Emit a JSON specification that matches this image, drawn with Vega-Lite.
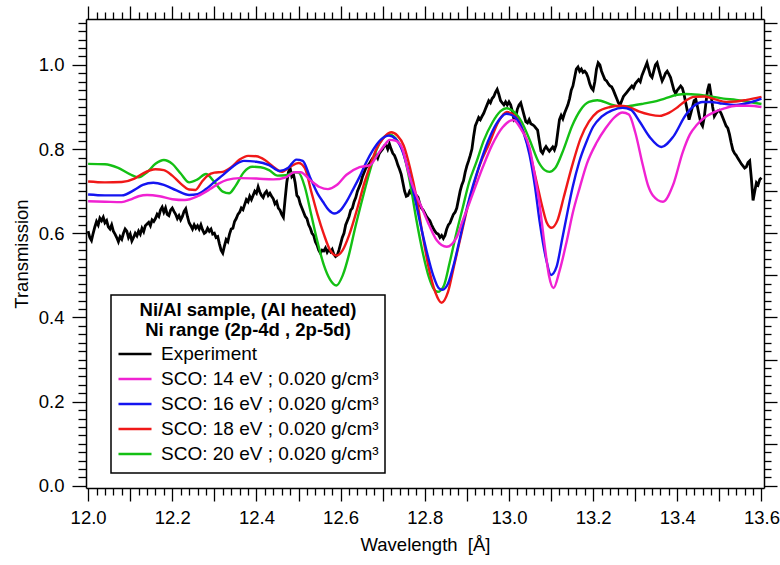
{
"$schema":"https://vega.github.io/schema/vega-lite/v6.json",
"width":678,"height":469,
"autosize":{"type":"none"},
"padding":{"left":86,"top":19,"right":16,"bottom":77},
"background":"white",
"config":{"font":"Liberation Sans","view":{"stroke":null},"legend":{"strokeWidth":1.5}},
"datasets":{
"exp":[
{"w":12.000,"t":0.605},{"w":12.004,"t":0.59},{"w":12.008,"t":0.583},{"w":12.012,"t":0.6},{"w":12.016,"t":0.615},{"w":12.020,"t":0.628},{"w":12.024,"t":0.62},{"w":12.028,"t":0.636},{"w":12.032,"t":0.63},{"w":12.036,"t":0.638},{"w":12.040,"t":0.625},{"w":12.044,"t":0.63},{"w":12.048,"t":0.615},{"w":12.052,"t":0.61},{"w":12.056,"t":0.62},{"w":12.060,"t":0.605},{"w":12.064,"t":0.598},{"w":12.068,"t":0.59},{"w":12.072,"t":0.58},{"w":12.076,"t":0.592},{"w":12.080,"t":0.586},{"w":12.084,"t":0.6},{"w":12.088,"t":0.61},{"w":12.092,"t":0.605},{"w":12.096,"t":0.59},{"w":12.100,"t":0.598},{"w":12.104,"t":0.582},{"w":12.108,"t":0.59},{"w":12.112,"t":0.6},{"w":12.116,"t":0.594},{"w":12.120,"t":0.605},{"w":12.124,"t":0.598},{"w":12.128,"t":0.612},{"w":12.132,"t":0.604},{"w":12.136,"t":0.618},{"w":12.140,"t":0.622},{"w":12.144,"t":0.626},{"w":12.148,"t":0.618},{"w":12.152,"t":0.632},{"w":12.156,"t":0.628},{"w":12.160,"t":0.635},{"w":12.164,"t":0.645},{"w":12.168,"t":0.64},{"w":12.172,"t":0.655},{"w":12.176,"t":0.662},{"w":12.180,"t":0.65},{"w":12.184,"t":0.66},{"w":12.188,"t":0.645},{"w":12.192,"t":0.642},{"w":12.196,"t":0.655},{"w":12.200,"t":0.66},{"w":12.204,"t":0.652},{"w":12.208,"t":0.645},{"w":12.212,"t":0.635},{"w":12.216,"t":0.642},{"w":12.220,"t":0.632},{"w":12.224,"t":0.64},{"w":12.228,"t":0.652},{"w":12.232,"t":0.658},{"w":12.236,"t":0.64},{"w":12.240,"t":0.625},{"w":12.244,"t":0.618},{"w":12.248,"t":0.61},{"w":12.252,"t":0.62},{"w":12.256,"t":0.612},{"w":12.260,"t":0.618},{"w":12.264,"t":0.61},{"w":12.268,"t":0.62},{"w":12.272,"t":0.608},{"w":12.276,"t":0.6},{"w":12.280,"t":0.603},{"w":12.284,"t":0.612},{"w":12.288,"t":0.605},{"w":12.292,"t":0.61},{"w":12.296,"t":0.598},{"w":12.300,"t":0.6},{"w":12.304,"t":0.59},{"w":12.308,"t":0.592},{"w":12.312,"t":0.575},{"w":12.316,"t":0.56},{"w":12.320,"t":0.553},{"w":12.324,"t":0.57},{"w":12.328,"t":0.585},{"w":12.332,"t":0.58},{"w":12.336,"t":0.598},{"w":12.340,"t":0.61},{"w":12.344,"t":0.612},{"w":12.348,"t":0.628},{"w":12.352,"t":0.635},{"w":12.356,"t":0.645},{"w":12.360,"t":0.65},{"w":12.364,"t":0.66},{"w":12.368,"t":0.656},{"w":12.372,"t":0.668},{"w":12.376,"t":0.68},{"w":12.380,"t":0.675},{"w":12.384,"t":0.688},{"w":12.388,"t":0.68},{"w":12.392,"t":0.69},{"w":12.396,"t":0.7},{"w":12.400,"t":0.695},{"w":12.404,"t":0.71},{"w":12.408,"t":0.698},{"w":12.412,"t":0.69},{"w":12.416,"t":0.685},{"w":12.420,"t":0.695},{"w":12.424,"t":0.7},{"w":12.428,"t":0.69},{"w":12.432,"t":0.695},{"w":12.436,"t":0.688},{"w":12.440,"t":0.682},{"w":12.444,"t":0.67},{"w":12.448,"t":0.675},{"w":12.452,"t":0.66},{"w":12.456,"t":0.655},{"w":12.460,"t":0.645},{"w":12.464,"t":0.638},{"w":12.468,"t":0.68},{"w":12.472,"t":0.72},{"w":12.476,"t":0.745},{"w":12.480,"t":0.755},{"w":12.484,"t":0.735},{"w":12.488,"t":0.74},{"w":12.492,"t":0.72},{"w":12.496,"t":0.69},{"w":12.500,"t":0.685},{"w":12.504,"t":0.67},{"w":12.508,"t":0.66},{"w":12.512,"t":0.65},{"w":12.516,"t":0.64},{"w":12.520,"t":0.635},{"w":12.524,"t":0.62},{"w":12.528,"t":0.612},{"w":12.532,"t":0.6},{"w":12.536,"t":0.595},{"w":12.540,"t":0.58},{"w":12.544,"t":0.572},{"w":12.548,"t":0.56},{"w":12.552,"t":0.553},{"w":12.556,"t":0.56},{"w":12.560,"t":0.558},{"w":12.564,"t":0.565},{"w":12.568,"t":0.555},{"w":12.572,"t":0.562},{"w":12.576,"t":0.556},{"w":12.580,"t":0.562},{"w":12.584,"t":0.55},{"w":12.588,"t":0.545},{"w":12.592,"t":0.548},{"w":12.596,"t":0.56},{"w":12.600,"t":0.575},{"w":12.604,"t":0.59},{"w":12.608,"t":0.6},{"w":12.612,"t":0.62},{"w":12.616,"t":0.63},{"w":12.620,"t":0.64},{"w":12.624,"t":0.655},{"w":12.628,"t":0.66},{"w":12.632,"t":0.675},{"w":12.636,"t":0.685},{"w":12.640,"t":0.7},{"w":12.644,"t":0.71},{"w":12.648,"t":0.72},{"w":12.652,"t":0.735},{"w":12.656,"t":0.745},{"w":12.660,"t":0.755},{"w":12.664,"t":0.76},{"w":12.668,"t":0.765},{"w":12.672,"t":0.772},{"w":12.676,"t":0.778},{"w":12.680,"t":0.78},{"w":12.684,"t":0.785},{"w":12.688,"t":0.778},{"w":12.692,"t":0.79},{"w":12.696,"t":0.795},{"w":12.700,"t":0.8},{"w":12.704,"t":0.808},{"w":12.708,"t":0.81},{"w":12.712,"t":0.8},{"w":12.716,"t":0.812},{"w":12.720,"t":0.8},{"w":12.724,"t":0.79},{"w":12.728,"t":0.785},{"w":12.732,"t":0.775},{"w":12.736,"t":0.762},{"w":12.740,"t":0.752},{"w":12.744,"t":0.74},{"w":12.748,"t":0.72},{"w":12.752,"t":0.7},{"w":12.756,"t":0.688},{"w":12.760,"t":0.69},{"w":12.764,"t":0.7},{"w":12.768,"t":0.695},{"w":12.772,"t":0.702},{"w":12.776,"t":0.695},{"w":12.780,"t":0.69},{"w":12.784,"t":0.685},{"w":12.788,"t":0.67},{"w":12.792,"t":0.66},{"w":12.796,"t":0.655},{"w":12.800,"t":0.648},{"w":12.804,"t":0.64},{"w":12.808,"t":0.635},{"w":12.812,"t":0.63},{"w":12.816,"t":0.62},{"w":12.820,"t":0.612},{"w":12.824,"t":0.605},{"w":12.828,"t":0.6},{"w":12.832,"t":0.598},{"w":12.836,"t":0.59},{"w":12.840,"t":0.595},{"w":12.844,"t":0.588},{"w":12.848,"t":0.595},{"w":12.852,"t":0.61},{"w":12.856,"t":0.62},{"w":12.860,"t":0.625},{"w":12.864,"t":0.635},{"w":12.868,"t":0.645},{"w":12.872,"t":0.65},{"w":12.876,"t":0.66},{"w":12.880,"t":0.68},{"w":12.884,"t":0.7},{"w":12.888,"t":0.715},{"w":12.892,"t":0.725},{"w":12.896,"t":0.745},{"w":12.900,"t":0.76},{"w":12.904,"t":0.772},{"w":12.908,"t":0.785},{"w":12.912,"t":0.8},{"w":12.916,"t":0.83},{"w":12.920,"t":0.855},{"w":12.924,"t":0.865},{"w":12.928,"t":0.875},{"w":12.932,"t":0.87},{"w":12.936,"t":0.878},{"w":12.940,"t":0.885},{"w":12.944,"t":0.895},{"w":12.948,"t":0.905},{"w":12.952,"t":0.915},{"w":12.956,"t":0.91},{"w":12.960,"t":0.92},{"w":12.964,"t":0.925},{"w":12.968,"t":0.935},{"w":12.972,"t":0.942},{"w":12.976,"t":0.93},{"w":12.980,"t":0.915},{"w":12.984,"t":0.91},{"w":12.988,"t":0.905},{"w":12.992,"t":0.912},{"w":12.996,"t":0.905},{"w":13.000,"t":0.912},{"w":13.004,"t":0.905},{"w":13.008,"t":0.89},{"w":13.012,"t":0.87},{"w":13.016,"t":0.875},{"w":13.020,"t":0.895},{"w":13.024,"t":0.905},{"w":13.028,"t":0.91},{"w":13.032,"t":0.895},{"w":13.036,"t":0.88},{"w":13.040,"t":0.865},{"w":13.044,"t":0.862},{"w":13.048,"t":0.87},{"w":13.052,"t":0.86},{"w":13.056,"t":0.858},{"w":13.060,"t":0.855},{"w":13.064,"t":0.85},{"w":13.068,"t":0.845},{"w":13.072,"t":0.82},{"w":13.076,"t":0.795},{"w":13.080,"t":0.79},{"w":13.084,"t":0.8},{"w":13.088,"t":0.806},{"w":13.092,"t":0.8},{"w":13.096,"t":0.795},{"w":13.100,"t":0.8},{"w":13.104,"t":0.805},{"w":13.108,"t":0.798},{"w":13.112,"t":0.81},{"w":13.116,"t":0.84},{"w":13.120,"t":0.87},{"w":13.124,"t":0.88},{"w":13.128,"t":0.872},{"w":13.132,"t":0.885},{"w":13.136,"t":0.895},{"w":13.140,"t":0.905},{"w":13.144,"t":0.92},{"w":13.148,"t":0.94},{"w":13.152,"t":0.95},{"w":13.156,"t":0.97},{"w":13.160,"t":0.99},{"w":13.164,"t":0.995},{"w":13.168,"t":0.985},{"w":13.172,"t":0.99},{"w":13.176,"t":0.982},{"w":13.180,"t":0.985},{"w":13.184,"t":0.98},{"w":13.188,"t":0.97},{"w":13.192,"t":0.955},{"w":13.196,"t":0.945},{"w":13.200,"t":0.94},{"w":13.204,"t":0.96},{"w":13.208,"t":0.99},{"w":13.212,"t":1.005},{"w":13.216,"t":1.0},{"w":13.220,"t":0.985},{"w":13.224,"t":0.975},{"w":13.228,"t":0.965},{"w":13.232,"t":0.962},{"w":13.236,"t":0.955},{"w":13.240,"t":0.95},{"w":13.244,"t":0.948},{"w":13.248,"t":0.94},{"w":13.252,"t":0.93},{"w":13.256,"t":0.92},{"w":13.260,"t":0.91},{"w":13.264,"t":0.905},{"w":13.268,"t":0.915},{"w":13.272,"t":0.925},{"w":13.276,"t":0.93},{"w":13.280,"t":0.935},{"w":13.284,"t":0.94},{"w":13.288,"t":0.945},{"w":13.292,"t":0.95},{"w":13.296,"t":0.945},{"w":13.300,"t":0.955},{"w":13.304,"t":0.96},{"w":13.308,"t":0.965},{"w":13.312,"t":0.96},{"w":13.316,"t":0.975},{"w":13.320,"t":0.985},{"w":13.324,"t":0.995},{"w":13.328,"t":1.005},{"w":13.332,"t":0.99},{"w":13.336,"t":0.975},{"w":13.340,"t":0.97},{"w":13.344,"t":0.985},{"w":13.348,"t":1.0},{"w":13.352,"t":1.005},{"w":13.356,"t":0.99},{"w":13.360,"t":0.975},{"w":13.364,"t":0.962},{"w":13.368,"t":0.97},{"w":13.372,"t":0.98},{"w":13.376,"t":0.985},{"w":13.380,"t":0.978},{"w":13.384,"t":0.97},{"w":13.388,"t":0.955},{"w":13.392,"t":0.94},{"w":13.396,"t":0.932},{"w":13.400,"t":0.94},{"w":13.404,"t":0.945},{"w":13.408,"t":0.95},{"w":13.412,"t":0.945},{"w":13.416,"t":0.93},{"w":13.420,"t":0.91},{"w":13.424,"t":0.89},{"w":13.428,"t":0.87},{"w":13.432,"t":0.885},{"w":13.436,"t":0.9},{"w":13.440,"t":0.915},{"w":13.444,"t":0.918},{"w":13.448,"t":0.9},{"w":13.452,"t":0.88},{"w":13.456,"t":0.862},{"w":13.460,"t":0.855},{"w":13.464,"t":0.875},{"w":13.468,"t":0.91},{"w":13.472,"t":0.94},{"w":13.476,"t":0.955},{"w":13.480,"t":0.93},{"w":13.484,"t":0.9},{"w":13.488,"t":0.878},{"w":13.492,"t":0.885},{"w":13.496,"t":0.89},{"w":13.500,"t":0.892},{"w":13.504,"t":0.885},{"w":13.508,"t":0.875},{"w":13.512,"t":0.865},{"w":13.516,"t":0.855},{"w":13.520,"t":0.85},{"w":13.524,"t":0.835},{"w":13.528,"t":0.815},{"w":13.532,"t":0.798},{"w":13.536,"t":0.79},{"w":13.540,"t":0.785},{"w":13.544,"t":0.778},{"w":13.548,"t":0.772},{"w":13.552,"t":0.765},{"w":13.556,"t":0.76},{"w":13.560,"t":0.755},{"w":13.564,"t":0.758},{"w":13.568,"t":0.768},{"w":13.572,"t":0.772},{"w":13.576,"t":0.73},{"w":13.580,"t":0.678},{"w":13.584,"t":0.7},{"w":13.588,"t":0.72},{"w":13.592,"t":0.715},{"w":13.596,"t":0.728},{"w":13.600,"t":0.732}
],
"sim":[
{"s":"20","w":12.00,"t":0.765},{"s":"20","w":12.04,"t":0.764},{"s":"20","w":12.07,"t":0.756},{"s":"20","w":12.10,"t":0.740},{"s":"20","w":12.12,"t":0.733},{"s":"20","w":12.14,"t":0.745},{"s":"20","w":12.16,"t":0.765},{"s":"20","w":12.18,"t":0.774},{"s":"20","w":12.20,"t":0.765},{"s":"20","w":12.22,"t":0.742},{"s":"20","w":12.24,"t":0.721},{"s":"20","w":12.26,"t":0.728},{"s":"20","w":12.28,"t":0.741},{"s":"20","w":12.30,"t":0.722},{"s":"20","w":12.32,"t":0.699},{"s":"20","w":12.335,"t":0.695},{"s":"20","w":12.35,"t":0.712},{"s":"20","w":12.37,"t":0.745},{"s":"20","w":12.39,"t":0.758},{"s":"20","w":12.41,"t":0.757},{"s":"20","w":12.43,"t":0.75},{"s":"20","w":12.45,"t":0.737},{"s":"20","w":12.47,"t":0.738},{"s":"20","w":12.49,"t":0.745},{"s":"20","w":12.50,"t":0.744},{"s":"20","w":12.515,"t":0.71},{"s":"20","w":12.53,"t":0.645},{"s":"20","w":12.545,"t":0.58},{"s":"20","w":12.56,"t":0.525},{"s":"20","w":12.575,"t":0.49},{"s":"20","w":12.59,"t":0.476},{"s":"20","w":12.605,"t":0.5},{"s":"20","w":12.62,"t":0.55},{"s":"20","w":12.635,"t":0.615},{"s":"20","w":12.65,"t":0.675},{"s":"20","w":12.67,"t":0.75},{"s":"20","w":12.685,"t":0.798},{"s":"20","w":12.70,"t":0.825},{"s":"20","w":12.716,"t":0.835},{"s":"20","w":12.73,"t":0.826},{"s":"20","w":12.748,"t":0.795},{"s":"20","w":12.765,"t":0.72},{"s":"20","w":12.78,"t":0.632},{"s":"20","w":12.795,"t":0.555},{"s":"20","w":12.81,"t":0.495},{"s":"20","w":12.82,"t":0.47},{"s":"20","w":12.831,"t":0.461},{"s":"20","w":12.845,"t":0.475},{"s":"20","w":12.859,"t":0.53},{"s":"20","w":12.875,"t":0.6},{"s":"20","w":12.89,"t":0.66},{"s":"20","w":12.905,"t":0.72},{"s":"20","w":12.923,"t":0.77},{"s":"20","w":12.94,"t":0.82},{"s":"20","w":12.96,"t":0.862},{"s":"20","w":12.98,"t":0.89},{"s":"20","w":12.994,"t":0.897},{"s":"20","w":13.01,"t":0.89},{"s":"20","w":13.03,"t":0.865},{"s":"20","w":13.05,"t":0.82},{"s":"20","w":13.07,"t":0.77},{"s":"20","w":13.085,"t":0.75},{"s":"20","w":13.096,"t":0.746},{"s":"20","w":13.11,"t":0.755},{"s":"20","w":13.13,"t":0.8},{"s":"20","w":13.15,"t":0.855},{"s":"20","w":13.17,"t":0.893},{"s":"20","w":13.19,"t":0.912},{"s":"20","w":13.21,"t":0.916},{"s":"20","w":13.24,"t":0.907},{"s":"20","w":13.265,"t":0.9},{"s":"20","w":13.29,"t":0.903},{"s":"20","w":13.32,"t":0.908},{"s":"20","w":13.342,"t":0.912},{"s":"20","w":13.37,"t":0.92},{"s":"20","w":13.40,"t":0.929},{"s":"20","w":13.42,"t":0.931},{"s":"20","w":13.45,"t":0.929},{"s":"20","w":13.48,"t":0.925},{"s":"20","w":13.51,"t":0.92},{"s":"20","w":13.54,"t":0.917},{"s":"20","w":13.57,"t":0.912},{"s":"20","w":13.60,"t":0.907},
{"s":"18","w":12.00,"t":0.723},{"s":"18","w":12.04,"t":0.721},{"s":"18","w":12.08,"t":0.722},{"s":"18","w":12.11,"t":0.73},{"s":"18","w":12.13,"t":0.742},{"s":"18","w":12.16,"t":0.752},{"s":"18","w":12.18,"t":0.75},{"s":"18","w":12.20,"t":0.737},{"s":"18","w":12.22,"t":0.718},{"s":"18","w":12.24,"t":0.704},{"s":"18","w":12.255,"t":0.703},{"s":"18","w":12.27,"t":0.722},{"s":"18","w":12.285,"t":0.738},{"s":"18","w":12.30,"t":0.744},{"s":"18","w":12.32,"t":0.746},{"s":"18","w":12.34,"t":0.757},{"s":"18","w":12.36,"t":0.775},{"s":"18","w":12.38,"t":0.784},{"s":"18","w":12.40,"t":0.783},{"s":"18","w":12.42,"t":0.774},{"s":"18","w":12.44,"t":0.758},{"s":"18","w":12.46,"t":0.746},{"s":"18","w":12.48,"t":0.758},{"s":"18","w":12.50,"t":0.767},{"s":"18","w":12.515,"t":0.755},{"s":"18","w":12.53,"t":0.7},{"s":"18","w":12.545,"t":0.645},{"s":"18","w":12.56,"t":0.598},{"s":"18","w":12.575,"t":0.56},{"s":"18","w":12.59,"t":0.547},{"s":"18","w":12.605,"t":0.56},{"s":"18","w":12.62,"t":0.595},{"s":"18","w":12.64,"t":0.66},{"s":"18","w":12.655,"t":0.715},{"s":"18","w":12.67,"t":0.76},{"s":"18","w":12.685,"t":0.8},{"s":"18","w":12.70,"t":0.824},{"s":"18","w":12.72,"t":0.84},{"s":"18","w":12.735,"t":0.832},{"s":"18","w":12.75,"t":0.808},{"s":"18","w":12.765,"t":0.755},{"s":"18","w":12.78,"t":0.686},{"s":"18","w":12.795,"t":0.595},{"s":"18","w":12.81,"t":0.515},{"s":"18","w":12.825,"t":0.46},{"s":"18","w":12.84,"t":0.435},{"s":"18","w":12.855,"t":0.46},{"s":"18","w":12.87,"t":0.525},{"s":"18","w":12.885,"t":0.59},{"s":"18","w":12.90,"t":0.655},{"s":"18","w":12.915,"t":0.71},{"s":"18","w":12.93,"t":0.76},{"s":"18","w":12.954,"t":0.815},{"s":"18","w":12.975,"t":0.865},{"s":"18","w":12.995,"t":0.888},{"s":"18","w":13.015,"t":0.878},{"s":"18","w":13.035,"t":0.84},{"s":"18","w":13.05,"t":0.79},{"s":"18","w":13.065,"t":0.725},{"s":"18","w":13.08,"t":0.66},{"s":"18","w":13.09,"t":0.625},{"s":"18","w":13.101,"t":0.613},{"s":"18","w":13.115,"t":0.63},{"s":"18","w":13.13,"t":0.685},{"s":"18","w":13.15,"t":0.76},{"s":"18","w":13.17,"t":0.825},{"s":"18","w":13.19,"t":0.865},{"s":"18","w":13.21,"t":0.888},{"s":"18","w":13.24,"t":0.9},{"s":"18","w":13.265,"t":0.903},{"s":"18","w":13.29,"t":0.898},{"s":"18","w":13.31,"t":0.889},{"s":"18","w":13.335,"t":0.882},{"s":"18","w":13.358,"t":0.879},{"s":"18","w":13.38,"t":0.886},{"s":"18","w":13.40,"t":0.899},{"s":"18","w":13.42,"t":0.915},{"s":"18","w":13.44,"t":0.924},{"s":"18","w":13.465,"t":0.925},{"s":"18","w":13.49,"t":0.918},{"s":"18","w":13.517,"t":0.912},{"s":"18","w":13.54,"t":0.913},{"s":"18","w":13.565,"t":0.917},{"s":"18","w":13.60,"t":0.924},
{"s":"16","w":12.00,"t":0.692},{"s":"16","w":12.04,"t":0.69},{"s":"16","w":12.08,"t":0.69},{"s":"16","w":12.11,"t":0.703},{"s":"16","w":12.13,"t":0.715},{"s":"16","w":12.155,"t":0.72},{"s":"16","w":12.18,"t":0.715},{"s":"16","w":12.21,"t":0.702},{"s":"16","w":12.24,"t":0.691},{"s":"16","w":12.26,"t":0.693},{"s":"16","w":12.28,"t":0.705},{"s":"16","w":12.30,"t":0.722},{"s":"16","w":12.32,"t":0.738},{"s":"16","w":12.35,"t":0.763},{"s":"16","w":12.37,"t":0.772},{"s":"16","w":12.40,"t":0.77},{"s":"16","w":12.43,"t":0.762},{"s":"16","w":12.455,"t":0.748},{"s":"16","w":12.475,"t":0.755},{"s":"16","w":12.495,"t":0.775},{"s":"16","w":12.51,"t":0.772},{"s":"16","w":12.527,"t":0.734},{"s":"16","w":12.545,"t":0.695},{"s":"16","w":12.558,"t":0.675},{"s":"16","w":12.572,"t":0.655},{"s":"16","w":12.585,"t":0.647},{"s":"16","w":12.60,"t":0.655},{"s":"16","w":12.614,"t":0.675},{"s":"16","w":12.63,"t":0.705},{"s":"16","w":12.645,"t":0.734},{"s":"16","w":12.66,"t":0.767},{"s":"16","w":12.677,"t":0.798},{"s":"16","w":12.695,"t":0.822},{"s":"16","w":12.715,"t":0.832},{"s":"16","w":12.73,"t":0.825},{"s":"16","w":12.745,"t":0.8},{"s":"16","w":12.76,"t":0.752},{"s":"16","w":12.775,"t":0.69},{"s":"16","w":12.79,"t":0.62},{"s":"16","w":12.805,"t":0.555},{"s":"16","w":12.82,"t":0.5},{"s":"16","w":12.833,"t":0.47},{"s":"16","w":12.842,"t":0.466},{"s":"16","w":12.855,"t":0.48},{"s":"16","w":12.87,"t":0.53},{"s":"16","w":12.885,"t":0.595},{"s":"16","w":12.90,"t":0.66},{"s":"16","w":12.915,"t":0.715},{"s":"16","w":12.93,"t":0.762},{"s":"16","w":12.95,"t":0.818},{"s":"16","w":12.97,"t":0.86},{"s":"16","w":12.994,"t":0.884},{"s":"16","w":13.015,"t":0.875},{"s":"16","w":13.035,"t":0.838},{"s":"16","w":13.049,"t":0.786},{"s":"16","w":13.062,"t":0.71},{"s":"16","w":13.073,"t":0.627},{"s":"16","w":13.088,"t":0.54},{"s":"16","w":13.10,"t":0.501},{"s":"16","w":13.113,"t":0.52},{"s":"16","w":13.127,"t":0.589},{"s":"16","w":13.14,"t":0.655},{"s":"16","w":13.151,"t":0.708},{"s":"16","w":13.167,"t":0.77},{"s":"16","w":13.184,"t":0.817},{"s":"16","w":13.20,"t":0.853},{"s":"16","w":13.22,"t":0.877},{"s":"16","w":13.245,"t":0.892},{"s":"16","w":13.27,"t":0.898},{"s":"16","w":13.29,"t":0.893},{"s":"16","w":13.31,"t":0.866},{"s":"16","w":13.334,"t":0.829},{"s":"16","w":13.362,"t":0.805},{"s":"16","w":13.39,"t":0.829},{"s":"16","w":13.42,"t":0.881},{"s":"16","w":13.44,"t":0.903},{"s":"16","w":13.46,"t":0.912},{"s":"16","w":13.48,"t":0.912},{"s":"16","w":13.50,"t":0.909},{"s":"16","w":13.54,"t":0.905},{"s":"16","w":13.57,"t":0.91},{"s":"16","w":13.60,"t":0.92},
{"s":"14","w":12.00,"t":0.676},{"s":"14","w":12.04,"t":0.675},{"s":"14","w":12.08,"t":0.674},{"s":"14","w":12.10,"t":0.68},{"s":"14","w":12.12,"t":0.688},{"s":"14","w":12.14,"t":0.691},{"s":"14","w":12.17,"t":0.688},{"s":"14","w":12.20,"t":0.681},{"s":"14","w":12.23,"t":0.679},{"s":"14","w":12.26,"t":0.688},{"s":"14","w":12.29,"t":0.705},{"s":"14","w":12.31,"t":0.718},{"s":"14","w":12.33,"t":0.727},{"s":"14","w":12.36,"t":0.731},{"s":"14","w":12.40,"t":0.73},{"s":"14","w":12.44,"t":0.728},{"s":"14","w":12.47,"t":0.733},{"s":"14","w":12.49,"t":0.745},{"s":"14","w":12.505,"t":0.745},{"s":"14","w":12.527,"t":0.727},{"s":"14","w":12.55,"t":0.71},{"s":"14","w":12.57,"t":0.705},{"s":"14","w":12.59,"t":0.714},{"s":"14","w":12.614,"t":0.739},{"s":"14","w":12.645,"t":0.757},{"s":"14","w":12.67,"t":0.762},{"s":"14","w":12.69,"t":0.79},{"s":"14","w":12.705,"t":0.81},{"s":"14","w":12.716,"t":0.822},{"s":"14","w":12.73,"t":0.82},{"s":"14","w":12.745,"t":0.805},{"s":"14","w":12.764,"t":0.734},{"s":"14","w":12.78,"t":0.69},{"s":"14","w":12.795,"t":0.656},{"s":"14","w":12.81,"t":0.62},{"s":"14","w":12.828,"t":0.584},{"s":"14","w":12.852,"t":0.568},{"s":"14","w":12.876,"t":0.591},{"s":"14","w":12.89,"t":0.63},{"s":"14","w":12.906,"t":0.672},{"s":"14","w":12.937,"t":0.755},{"s":"14","w":12.96,"t":0.81},{"s":"14","w":12.985,"t":0.852},{"s":"14","w":13.01,"t":0.869},{"s":"14","w":13.03,"t":0.845},{"s":"14","w":13.049,"t":0.803},{"s":"14","w":13.06,"t":0.745},{"s":"14","w":13.073,"t":0.667},{"s":"14","w":13.085,"t":0.57},{"s":"14","w":13.095,"t":0.5},{"s":"14","w":13.106,"t":0.47},{"s":"14","w":13.12,"t":0.51},{"s":"14","w":13.137,"t":0.58},{"s":"14","w":13.152,"t":0.65},{"s":"14","w":13.168,"t":0.708},{"s":"14","w":13.185,"t":0.765},{"s":"14","w":13.208,"t":0.815},{"s":"14","w":13.23,"t":0.85},{"s":"14","w":13.25,"t":0.875},{"s":"14","w":13.27,"t":0.887},{"s":"14","w":13.285,"t":0.882},{"s":"14","w":13.30,"t":0.84},{"s":"14","w":13.318,"t":0.762},{"s":"14","w":13.33,"t":0.715},{"s":"14","w":13.342,"t":0.69},{"s":"14","w":13.366,"t":0.675},{"s":"14","w":13.39,"t":0.715},{"s":"14","w":13.413,"t":0.793},{"s":"14","w":13.43,"t":0.835},{"s":"14","w":13.446,"t":0.857},{"s":"14","w":13.465,"t":0.875},{"s":"14","w":13.484,"t":0.886},{"s":"14","w":13.51,"t":0.896},{"s":"14","w":13.54,"t":0.903},{"s":"14","w":13.57,"t":0.903},{"s":"14","w":13.60,"t":0.9}
]
},
"layer":[
{
"data":{"name":"exp"},
"mark":{"type":"line","strokeWidth":2.8,"interpolate":"linear","color":"black"},
"encoding":{
"x":{"field":"w","type":"quantitative","scale":{"domain":[11.995,13.606],"nice":false,"zero":false},
"axis":{"orient":"bottom","values":[12,12.02,12.04,12.06,12.08,12.1,12.12,12.14,12.16,12.18,12.2,12.22,12.24,12.26,12.28,12.3,12.32,12.34,12.36,12.38,12.4,12.42,12.44,12.46,12.48,12.5,12.52,12.54,12.56,12.58,12.6,12.62,12.64,12.66,12.68,12.7,12.72,12.74,12.76,12.78,12.8,12.82,12.84,12.86,12.88,12.9,12.92,12.94,12.96,12.98,13,13.02,13.04,13.06,13.08,13.1,13.12,13.14,13.16,13.18,13.2,13.22,13.24,13.26,13.28,13.3,13.32,13.34,13.36,13.38,13.4,13.42,13.44,13.46,13.48,13.5,13.52,13.54,13.56,13.58,13.6],
"tickSize":{"condition":{"test":"abs(datum.value*10-round(datum.value*10))<0.001","value":13},"value":7},
"labelExpr":"abs(datum.value*5-round(datum.value*5))<0.001 ? format(datum.value,'.1f') : ''",
"labelOverlap":false,"labelFlush":false,"labelBound":false,"labelPadding":7,"labelFontSize":18.5,"labelColor":"black",
"domainColor":"black","domainWidth":1.5,"tickColor":"black","tickWidth":1.3,"grid":false,
"title":"Wavelength\u00a0 [Å]","titleFontSize":18.5,"titleFontWeight":"normal","titleColor":"black","titlePadding":9}},
"y":{"field":"t","type":"quantitative","scale":{"domain":[-0.005,1.109],"nice":false,"zero":false},
"axis":{"orient":"left","values":[0,0.02,0.04,0.06,0.08,0.1,0.12,0.14,0.16,0.18,0.2,0.22,0.24,0.26,0.28,0.3,0.32,0.34,0.36,0.38,0.4,0.42,0.44,0.46,0.48,0.5,0.52,0.54,0.56,0.58,0.6,0.62,0.64,0.66,0.68,0.7,0.72,0.74,0.76,0.78,0.8,0.82,0.84,0.86,0.88,0.9,0.92,0.94,0.96,0.98,1,1.02,1.04,1.06,1.08,1.1],
"tickSize":{"condition":{"test":"abs(datum.value*5-round(datum.value*5))<0.001","value":14},"value":8},
"labelExpr":"abs(datum.value*5-round(datum.value*5))<0.001 ? format(datum.value,'.1f') : ''",
"labelOverlap":false,"labelFlush":false,"labelBound":false,"labelPadding":8,"labelFontSize":18.5,"labelColor":"black",
"domainColor":"black","domainWidth":1.5,"tickColor":"black","tickWidth":1.3,"grid":false,
"title":"Transmission","titleFontSize":18.5,"titleFontWeight":"normal","titleColor":"black","titlePadding":7}},
"color":{"datum":"E","type":"nominal","scale":{"domain":["E","14","16","18","20"],"range":["#000000","#f022d2","#1414f0","#f01818","#14c014"]},
"legend":{"orient":"none","legendX":25,"legendY":276,"title":["Ni/Al sample, (Al heated)","Ni range (2p-4d , 2p-5d)"],
"titleFontSize":18.5,"titleFontWeight":"bold","titleAlign":"center","titleAnchor":"middle","titleLineHeight":20,"titleColor":"black","titlePadding":2,"titleLimit":1000,
"labelFontSize":19,"labelColor":"black","labelLimit":1000,"symbolType":"stroke","symbolSize":1089,"symbolStrokeWidth":2.5,"clipHeight":25,"rowPadding":0,"labelOffset":8,"padding":6,
"strokeColor":"black","fillColor":"white","cornerRadius":0,
"labelExpr":"datum.value == 'E' ? 'Experiment' : 'SCO: ' + datum.value + ' eV ; 0.020 g/cm³'"}}
}
},
{
"data":{"name":"sim"},
"mark":{"type":"line","strokeWidth":2.4,"interpolate":"monotone"},
"encoding":{
"x":{"field":"w","type":"quantitative","axis":null},
"y":{"field":"t","type":"quantitative","axis":null},
"color":{"field":"s","type":"nominal"}
}
},
{
"data":{"name":"sim"},
"mark":{"type":"point","opacity":0},
"encoding":{
"x":{"field":"w","type":"quantitative",
"axis":{"orient":"top","values":[12,12.02,12.04,12.06,12.08,12.1,12.12,12.14,12.16,12.18,12.2,12.22,12.24,12.26,12.28,12.3,12.32,12.34,12.36,12.38,12.4,12.42,12.44,12.46,12.48,12.5,12.52,12.54,12.56,12.58,12.6,12.62,12.64,12.66,12.68,12.7,12.72,12.74,12.76,12.78,12.8,12.82,12.84,12.86,12.88,12.9,12.92,12.94,12.96,12.98,13,13.02,13.04,13.06,13.08,13.1,13.12,13.14,13.16,13.18,13.2,13.22,13.24,13.26,13.28,13.3,13.32,13.34,13.36,13.38,13.4,13.42,13.44,13.46,13.48,13.5,13.52,13.54,13.56,13.58,13.6],
"tickSize":{"condition":{"test":"abs(datum.value*10-round(datum.value*10))<0.001","value":13},"value":7},
"labels":false,"title":null,"domainColor":"black","domainWidth":1.5,"tickColor":"black","tickWidth":1.3,"grid":false}},
"y":{"field":"t","type":"quantitative",
"axis":{"orient":"right","values":[0,0.02,0.04,0.06,0.08,0.1,0.12,0.14,0.16,0.18,0.2,0.22,0.24,0.26,0.28,0.3,0.32,0.34,0.36,0.38,0.4,0.42,0.44,0.46,0.48,0.5,0.52,0.54,0.56,0.58,0.6,0.62,0.64,0.66,0.68,0.7,0.72,0.74,0.76,0.78,0.8,0.82,0.84,0.86,0.88,0.9,0.92,0.94,0.96,0.98,1,1.02,1.04,1.06,1.08,1.1],
"tickSize":{"condition":{"test":"abs(datum.value*10-round(datum.value*10))<0.001","value":13},"value":7},
"labels":false,"title":null,"domainColor":"black","domainWidth":1.5,"tickColor":"black","tickWidth":1.3,"grid":false}}
}
}
],
"resolve":{"axis":{"x":"independent","y":"independent"}}
}
